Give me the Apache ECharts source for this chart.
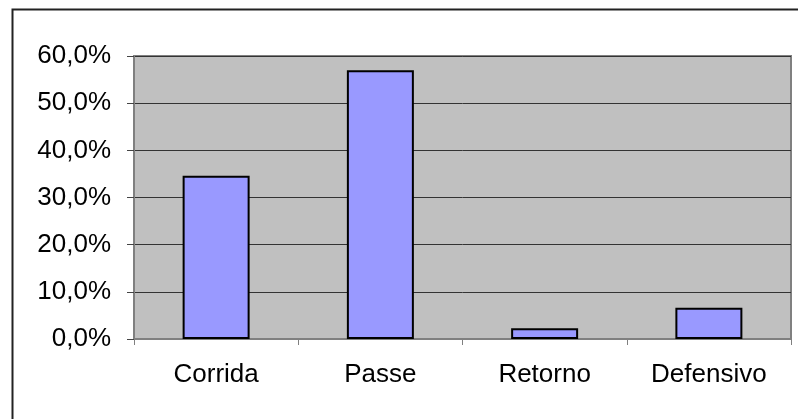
<!DOCTYPE html>
<html>
<head>
<meta charset="utf-8">
<script src="https://cdn.jsdelivr.net/npm/echarts@6/dist/echarts.min.js"></script>
<style>
html,body{margin:0;padding:0;background:#fff;}
#c{width:798px;height:419px;}
</style>
</head>
<body>
<div id="c"></div>
<script>
const categories = ["Corrida", "Passe", "Retorno", "Defensivo"];
const values = [0.346, 0.570, 0.023, 0.066];
const yMin = 0, yMax = 0.6, yInterval = 0.1;

const chart = echarts.init(document.getElementById('c'), null, {renderer: 'canvas'});
const fmt = v => (v * 100).toFixed(1).replace('.', ',') + '%';
chart.setOption({
  animation: false,
  backgroundColor: '#ffffff',
  textStyle: {fontFamily: 'Liberation Sans, Arial, sans-serif'},
  graphic: [{
    type: 'rect', left: 10, top: 7, z: 100,
    shape: {width: 900, height: 500},
    style: {fill: 'none', stroke: '#222', lineWidth: 2}
  }],
  grid: {
    left: 134, right: 7, top: 56, bottom: 80,
    show: true, backgroundColor: '#C0C0C0', borderColor: '#808080', borderWidth: 2
  },
  xAxis: {
    type: 'category', data: categories,
    axisLine: {show: true, lineStyle: {color: '#808080', width: 1}},
    axisTick: {show: true, alignWithLabel: false, length: 6, lineStyle: {color: '#808080'}},
    axisLabel: {color: '#000', fontSize: 26, margin: 23, fontFamily: 'Liberation Sans, Arial, sans-serif'}
  },
  yAxis: {
    type: 'value', min: yMin, max: yMax, interval: yInterval,
    axisLine: {show: true, lineStyle: {color: '#808080', width: 2}},
    axisTick: {show: true, length: 7, lineStyle: {color: '#444'}},
    splitLine: {show: true, lineStyle: {color: '#333', width: 1}},
    axisLabel: {color: '#000', fontSize: 26, margin: 23, formatter: fmt, fontFamily: 'Liberation Sans, Arial, sans-serif'}
  },
  series: [{
    type: 'bar', data: values, barWidth: 67,
    itemStyle: {color: '#9999FF', borderColor: '#000', borderWidth: 2}
  }]
});
</script>
</body>
</html>
